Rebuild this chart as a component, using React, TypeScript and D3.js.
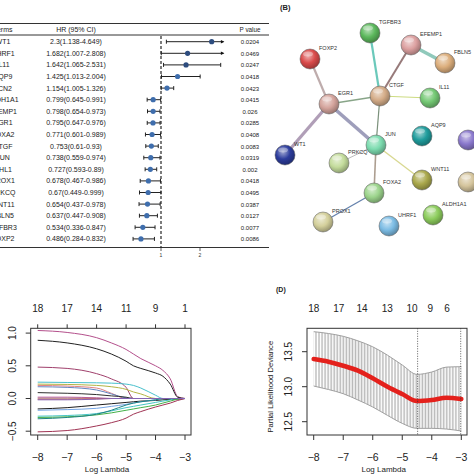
import React from 'react';
import * as d3 from 'd3';

// ---------- Panel A: forest plot data ----------
const genes = ['WT1','UHRF1','IL11','AQP9','LCN2','ALDH1A1','EFEMP1','EGR1','FOXA2','CTGF','JUN','CHL1','PROX1','PRKCQ','WNT11','FBLN5','TGFBR3','FOXP2'];
const hrVals = [2.3,1.682,1.642,1.425,1.154,0.799,0.798,0.795,0.771,0.753,0.738,0.727,0.678,0.67,0.654,0.637,0.534,0.486];
const ciLow = [1.138,1.007,1.065,1.013,1.005,0.645,0.654,0.647,0.601,0.61,0.559,0.593,0.467,0.449,0.437,0.447,0.336,0.284];
const ciHigh = [4.649,2.808,2.531,2.004,1.326,0.991,0.973,0.976,0.989,0.93,0.974,0.89,0.986,0.999,0.978,0.908,0.847,0.832];
const pValues = ['0.0204','0.0469','0.0247','0.0418','0.0423','0.0415','0.026','0.0285','0.0408','0.0083','0.0319','0.002','0.0418','0.0495','0.0387','0.0127','0.0077','0.0086'];
const forestTicks = [1, 2];

// ---------- Panel B: network ----------
const netNodes = ['TGFBR3','FOXP2','EFEMP1','FBLN5','CTGF','EGR1','IL11','JUN','AQP9','LCN2','WT1','PRKCQ','WNT11','CHL1','FOXA2','PROX1','UHRF1','ALDH1A1'];
const netColors = ['#5cb85c','#d94a4a','#dca0a0','#dcae7c','#d4ac88','#d4a49c','#74c874','#7ddcb0','#1f9c9c','#8a78cc','#2c3c9c','#c4dc9c','#aaa84c','#d4c49c','#9cd48c','#d4d09c','#7cbce4','#8ccc5c'];
const netLabeled = [true,true,true,true,true,true,true,true,true,false,true,true,true,false,true,true,true,true];
const netPos: [number, number][] = [[370,33],[310,59],[411,45],[445,63],[380,96],[329,104],[430,98],[376,145],[422,136],[468,140],[285,155],[339,163],[422,180],[468,182],[374,193],[323,222],[389,226],[433,215]];
const netEdges: [string, string, string, number][] = [
  ['FOXP2','EGR1','#b8a4a4',2.2],
  ['EGR1','CTGF','#7c9c7c',1.6],
  ['EGR1','WT1','#a894b0',3.2],
  ['EGR1','JUN','#9494b4',3.6],
  ['TGFBR3','CTGF','#5cc4b4',2.2],
  ['EFEMP1','CTGF','#8c6c6c',2.0],
  ['EFEMP1','FBLN5','#84c4b4',3.6],
  ['CTGF','IL11','#c8d874',1.2],
  ['CTGF','JUN','#6c846c',1.2],
  ['JUN','PRKCQ','#b4b4b4',1.0],
  ['JUN','WNT11','#d4d484',1.3],
  ['JUN','FOXA2','#a49484',1.6],
  ['FOXA2','PROX1','#5474a4',1.3],
];

// ---------- Panel C: lasso coefficient paths ----------
const lassoLL = [-8,-7,-6,-5.5,-5,-4.75,-4.5,-4,-3.75,-3.5,-3.25,-3];
const lassoPaths: number[][] = [
  [1.04,1.01,0.93,0.85,0.75,0.68,0.61,0.50,0.43,0.30,0.03,0],
  [0.89,0.85,0.76,0.68,0.57,0.50,0.46,0.39,0.34,0.22,0.02,0],
  [0.48,0.46,0.38,0.30,0.17,0,0,0,0,0,0,0],
  [0.25,0.245,0.24,0.235,0.22,0.20,0.16,0.05,0,0,0,0],
  [0.22,0.215,0.20,0.18,0.14,0.10,0.07,0,0,0,0,0],
  [0.20,0.19,0.16,0.08,0,0,0,0,0,0,0,0],
  [0.18,0.17,0.13,0.07,0.01,0,0,0,0,0,0,0],
  [0.09,0.08,0.06,0.04,0.02,0,0,0,0,0,0,0],
  [0.02,0.02,0.01,0,0,0,0,0,0,0,0,0],
  [0.005,0.005,0.003,0,0,0,0,0,0,0,0,0],
  [-0.01,-0.01,-0.005,0,0,0,0,0,0,0,0,0],
  [-0.16,-0.14,-0.10,-0.08,-0.06,-0.05,-0.04,-0.03,-0.02,-0.015,-0.01,0],
  [-0.18,-0.17,-0.15,-0.12,-0.09,-0.07,-0.05,-0.02,0,0,0,0],
  [-0.27,-0.26,-0.23,-0.19,-0.14,-0.12,-0.10,-0.06,-0.04,-0.02,0,0],
  [-0.29,-0.28,-0.25,-0.22,-0.18,-0.16,-0.14,-0.10,-0.07,-0.04,-0.01,0],
  [-0.31,-0.29,-0.24,-0.18,-0.10,-0.07,-0.05,-0.02,0,0,0,0],
  [-0.51,-0.49,-0.42,-0.37,-0.30,-0.24,-0.20,-0.13,-0.10,-0.07,-0.03,0],
  [-0.02,-0.02,-0.01,0,0,0,0,0,0,0,0,0],
];
const lassoColors = ['#b4508c','#222222','#a0406c','#48c0cc','#b4b444','#e08484','#6484c0','#303030','#c04894','#a0a0a0','#d04848','#1c1c1c','#74a4e4','#44c4c4','#44b048','#208484','#a03454','#8464b4'];
const lassoTopLL = [-8,-7,-6,-5,-4,-3];
const lassoTopN = ['18','17','14','11','9','1'];
const lassoYTicks = [-0.5, 0, 0.5, 1.0];
const xTicks = [-8,-7,-6,-5,-4,-3];

// ---------- Panel D: cross-validation ----------
const cvLL = [-8,-7.5,-7,-6.5,-6,-5.5,-5,-4.5,-4,-3.5,-3];
const cvMean = [13.395,13.357,13.30,13.23,13.12,13.0,12.895,12.795,12.81,12.843,12.824];
const cvUpper = [13.786,13.76,13.72,13.655,13.57,13.45,13.31,13.176,13.21,13.28,13.286];
const cvLower = [13.01,12.96,12.90,12.81,12.71,12.59,12.476,12.405,12.405,12.395,12.367];
const cvTopLL = [-8,-7.15,-6.36,-5.51,-4.67,-4.05,-3.48];
const cvTopN = ['18','17','14','13','10','9','6'];
const cvYTicks = [12.5, 13.0, 13.5];
const cvMinLL = -4.48;
const cv1seLL = -3.02;

const FONT = "'Liberation Sans', Arial, Helvetica, sans-serif";

function Forest() {
  const x = d3.scaleLinear().domain([1, 2]).range([161, 200]);
  const clipMax = 2.6;
  const rowY = (i: number) => 41.7 + i * 11.6;
  const tableRight = 269;
  return (
    <g fontFamily={FONT}>
      <line x1={0} x2={tableRight} y1={23.5} y2={23.5} stroke="#333" strokeWidth={1} />
      <line x1={0} x2={tableRight} y1={35} y2={35} stroke="#333" strokeWidth={1} />
      <line x1={0} x2={tableRight} y1={247.5} y2={247.5} stroke="#333" strokeWidth={1} />
      <text x={3} y={31.5} fontSize={7} textAnchor="middle" fill="#222">Terms</text>
      <text x={76} y={31.5} fontSize={7} textAnchor="middle" fill="#222">HR (95% CI)</text>
      <text x={250} y={31.5} fontSize={6.3} textAnchor="middle" fill="#222">P value</text>
      <line x1={x(1)} x2={x(1)} y1={36} y2={247.5} stroke="#111" strokeWidth={1.1} strokeDasharray="3,2" />
      {forestTicks.map(t => (
        <g key={t}>
          <line x1={x(t)} x2={x(t)} y1={247.5} y2={251} stroke="#333" strokeWidth={0.8} />
          <text x={x(t)} y={257} fontSize={5} textAnchor="middle" fill="#333">{t}</text>
        </g>
      ))}
      {genes.map((g, i) => {
        const y = rowY(i);
        const lo = x(ciLow[i]);
        const arrow = ciHigh[i] > clipMax;
        const hi = arrow ? x(clipMax) : x(ciHigh[i]);
        const dark = hrVals[i] > 1.6;
        return (
          <g key={g}>
            <text x={3} y={y + 2.5} fontSize={7} textAnchor="middle" fill="#222">{g}</text>
            <text x={76} y={y + 2.5} fontSize={7} textAnchor="middle" fill="#222">{`${hrVals[i]}(${ciLow[i]}-${ciHigh[i]})`}</text>
            <text x={250} y={y + 2.5} fontSize={6} textAnchor="middle" fill="#222">{pValues[i]}</text>
            <line x1={lo} x2={hi} y1={y} y2={y} stroke="#222" strokeWidth={1} />
            <line x1={lo} x2={lo} y1={y - 2} y2={y + 2} stroke="#222" strokeWidth={1} />
            {arrow ? (
              <path d={`M${hi + 1},${y} L${hi - 2.5},${y - 1.8} L${hi - 2.5},${y + 1.8} Z`} fill="#111" />
            ) : (
              <line x1={hi} x2={hi} y1={y - 2} y2={y + 2} stroke="#222" strokeWidth={1} />
            )}
            <circle cx={x(hrVals[i])} cy={y} r={2.6} fill={dark ? '#2d4c7e' : '#3f6ead'} />
          </g>
        );
      })}
    </g>
  );
}

function Network() {
  const idx = (n: string) => netNodes.indexOf(n);
  return (
    <g fontFamily={FONT}>
      <defs>
        {netNodes.map((n, i) => {
          const c = d3.color(netColors[i])!;
          return (
            <radialGradient key={n} id={`ng${i}`} cx="40%" cy="35%" r="65%">
              <stop offset="0%" stopColor={d3.interpolateRgb(netColors[i], '#ffffff')(0.55)} />
              <stop offset="55%" stopColor={netColors[i]} />
              <stop offset="100%" stopColor={c.darker(0.9).toString()} />
            </radialGradient>
          );
        })}
      </defs>
      <text x={280} y={10} fontSize={7.5} fontWeight="bold" fill="#222">(B)</text>
      {netEdges.map(([a, b, col, w], k) => {
        const p = netPos[idx(a)], q = netPos[idx(b)];
        return <line key={k} x1={p[0]} y1={p[1]} x2={q[0]} y2={q[1]} stroke={col} strokeWidth={w} opacity={0.9} />;
      })}
      {netNodes.map((n, i) => {
        const [cx, cy] = netPos[i];
        return (
          <g key={n}>
            <circle cx={cx} cy={cy} r={10} fill={`url(#ng${i})`} stroke="#555" strokeWidth={0.5} />
            <ellipse cx={cx - 2} cy={cy - 5} rx={5} ry={2.5} fill="#ffffff" opacity={0.35} />
            {netLabeled[i] && (
              <text x={cx + 9} y={cy - 9.5} fontSize={5.5} fill="#333">{n}</text>
            )}
          </g>
        );
      })}
    </g>
  );
}

function Lasso() {
  const x = d3.scaleLinear().domain([-8, -3]).range([37.7, 185]);
  const y = d3.scaleLinear().domain([0, 1]).range([398.5, 333.1]);
  const box = { l: 30.7, r: 191, t: 328.3, b: 435 };
  const line = d3.line<number>().x((_, j) => x(lassoLL[j])).y(d => y(d)).curve(d3.curveMonotoneX);
  return (
    <g fontFamily={FONT}>
      <defs>
        <clipPath id="lassoClip"><rect x={box.l} y={box.t} width={box.r - box.l} height={box.b - box.t} /></clipPath>
      </defs>
      <g clipPath="url(#lassoClip)">
        {lassoPaths.map((p, i) => (
          <path key={i} d={line(p) || ''} fill="none" stroke={lassoColors[i]} strokeWidth={1} />
        ))}
      </g>
      <rect x={box.l} y={box.t} width={box.r - box.l} height={box.b - box.t} fill="none" stroke="#333" strokeWidth={1} />
      {xTicks.map(t => (
        <g key={t}>
          <line x1={x(t)} x2={x(t)} y1={box.b} y2={box.b + 5} stroke="#333" />
          <text x={x(t)} y={461} fontSize={10.5} textAnchor="middle" fill="#222">{t < 0 ? '\u2212' + Math.abs(t) : t}</text>
        </g>
      ))}
      {lassoTopLL.map((t, i) => (
        <g key={i}>
          <line x1={x(t)} x2={x(t)} y1={box.t} y2={box.t - 4} stroke="#333" />
          <text x={x(t)} y={312} fontSize={10} textAnchor="middle" fill="#222">{lassoTopN[i]}</text>
        </g>
      ))}
      {lassoYTicks.map(t => (
        <g key={t}>
          <line x1={box.l} x2={box.l - 5} y1={y(t)} y2={y(t)} stroke="#333" />
          <text transform={`translate(16,${y(t)}) rotate(-90)`} fontSize={10} textAnchor="middle" fill="#222">{(t < 0 ? '\u2212' : '') + Math.abs(t).toFixed(1)}</text>
        </g>
      ))}
      <text x={107} y={472} fontSize={8} textAnchor="middle" fill="#222">Log Lambda</text>
    </g>
  );
}

function CV() {
  const x = d3.scaleLinear().domain([-8, -3]).range([313.7, 461.3]);
  const y = d3.scaleLinear().domain([13.0, 13.5]).range([386.7, 351.7]);
  const box = { l: 307, r: 467, t: 328.3, b: 435 };
  const mk = (arr: number[]) => d3.line<number>().x((_, j) => x(cvLL[j])).y(d => y(d)).curve(d3.curveMonotoneX)(arr) || '';
  const area = d3.area<number>().x((_, j) => x(cvLL[j])).y0((_, j) => y(cvLower[j])).y1((_, j) => y(cvUpper[j])).curve(d3.curveMonotoneX)(cvUpper) || '';
  return (
    <g fontFamily={FONT}>
      <defs>
        <pattern id="ebars" patternUnits="userSpaceOnUse" x={x(-8) - 0.3} y={0} width={1.49} height={10}>
          <rect x={0} y={0} width={0.6} height={10} fill="#a8a8a8" />
        </pattern>
      </defs>
      <text x={276} y={292} fontSize={7} fontWeight="bold" fill="#222">(D)</text>
      <path d={area} fill="url(#ebars)" />
      <path d={mk(cvUpper)} fill="none" stroke="#a0a0a0" strokeWidth={1} />
      <path d={mk(cvLower)} fill="none" stroke="#a0a0a0" strokeWidth={1} />
      <path d={mk(cvMean)} fill="none" stroke="#e4211c" strokeWidth={4.6} strokeLinecap="round" />
      <line x1={x(cvMinLL)} x2={x(cvMinLL)} y1={box.t} y2={box.b} stroke="#333" strokeWidth={0.8} strokeDasharray="1,1.5" />
      <line x1={x(cv1seLL)} x2={x(cv1seLL)} y1={box.t} y2={box.b} stroke="#333" strokeWidth={0.8} strokeDasharray="1,1.5" />
      <rect x={box.l} y={box.t} width={box.r - box.l} height={box.b - box.t} fill="none" stroke="#333" strokeWidth={1} />
      {xTicks.map(t => (
        <g key={t}>
          <line x1={x(t)} x2={x(t)} y1={box.b} y2={box.b + 5} stroke="#333" />
          <text x={x(t)} y={461} fontSize={10.5} textAnchor="middle" fill="#222">{'\u2212' + Math.abs(t)}</text>
        </g>
      ))}
      {cvTopLL.map((t, i) => (
        <text key={i} x={x(t)} y={312} fontSize={10} textAnchor="middle" fill="#222">{cvTopN[i]}</text>
      ))}
      {cvYTicks.map(t => (
        <g key={t}>
          <line x1={box.l} x2={box.l - 5} y1={y(t)} y2={y(t)} stroke="#333" />
          <text transform={`translate(292,${y(t)}) rotate(-90)`} fontSize={10} textAnchor="middle" fill="#222">{t.toFixed(1)}</text>
        </g>
      ))}
      <text transform={`translate(273,386.7) rotate(-90)`} fontSize={7.6} textAnchor="middle" fill="#222">Partial Likelihood Deviance</text>
      <text x={383.7} y={472} fontSize={8} textAnchor="middle" fill="#222">Log Lambda</text>
    </g>
  );
}

export default function App() {
  return (
    <svg width={474} height={474} viewBox="0 0 474 474"
      style={{ position: 'absolute', left: 0, top: 0, background: '#fff', display: 'block' }}>
      <rect x={0} y={0} width={474} height={474} fill="#fff" />
      <Forest />
      <Network />
      <Lasso />
      <CV />
    </svg>
  );
}
